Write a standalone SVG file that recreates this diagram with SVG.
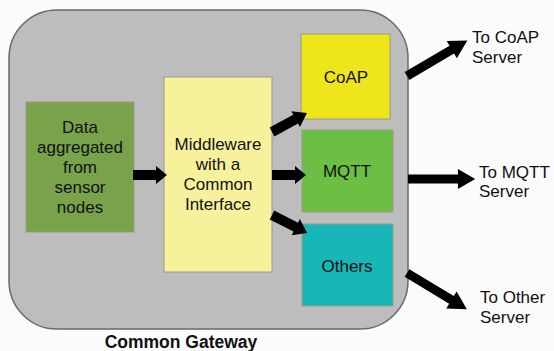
<svg xmlns="http://www.w3.org/2000/svg" width="554" height="351" viewBox="0 0 554 351">
<defs>
<style>
text{font-family:"Liberation Sans",Arial,sans-serif;font-size:17px;fill:#111}
.c{text-anchor:middle}
.box{stroke:#9a9a8a;stroke-width:1}
.arr{fill:#000}
</style>
<path id="sa" d="M0,-5 H23 V-9 L34,0 L23,9 V5 H0 Z"/>
<path id="la" d="M0,-4.5 H52 V-10 L70,0 L52,10 V4.5 H0 Z"/>
</defs>
<rect width="554" height="351" fill="#fbfbfc"/>
<g id="gateway">
<rect x="9" y="10" width="399" height="319" rx="48" ry="48" fill="#bdbdbd" stroke="#6a6a6a" stroke-width="1.5"/>
<text class="c" x="181" y="348" style="font-weight:bold;font-size:17.5px">Common Gateway</text>
</g>
<g id="data">
<rect class="box" x="26" y="102" width="108" height="130" fill="#78a34b" stroke="#6d8f47"/>
<text class="c" x="80" y="133">Data</text>
<text class="c" x="80" y="153">aggregated</text>
<text class="c" x="80" y="173">from</text>
<text class="c" x="80" y="193">sensor</text>
<text class="c" x="80" y="213">nodes</text>
</g>
<g id="middleware">
<rect class="box" x="164" y="77" width="108" height="195" fill="#f7f19c"/>
<text class="c" x="218" y="150">Middleware</text>
<text class="c" x="218" y="170">with a</text>
<text class="c" x="218" y="190">Common</text>
<text class="c" x="218" y="210">Interface</text>
</g>
<g id="coap">
<rect class="box" x="301" y="34" width="89" height="85" fill="#efe51b"/>
<text class="c" x="346" y="83">CoAP</text>
</g>
<g id="mqtt">
<rect class="box" x="302" y="130" width="91" height="82" fill="#6cbe45"/>
<text class="c" x="347" y="177">MQTT</text>
</g>
<g id="others">
<rect class="box" x="302" y="224" width="91" height="82" fill="#19b6b7"/>
<text class="c" x="347" y="272">Others</text>
</g>
<g id="labels">
<text x="472" y="43">To CoAP</text>
<text x="472" y="63">Server</text>
<text x="479" y="178">To MQTT</text>
<text x="479" y="197">Server</text>
<text x="480" y="303">To Other</text>
<text x="480" y="323">Server</text>
</g>
<g id="connectors" class="arr">
<use href="#sa" transform="translate(133,175)"/>
<use href="#sa" transform="translate(272,132) rotate(-28.5) scale(1.17,1)"/>
<use href="#sa" transform="translate(272,175)"/>
<use href="#sa" transform="translate(272,215) rotate(27) scale(1.16,1)"/>
<use href="#la" transform="translate(407,76) rotate(-30.5)"/>
<use href="#la" transform="translate(408,179) scale(0.96,1)"/>
<use href="#la" transform="translate(407,273) rotate(31.2)"/>
</g>
</svg>
